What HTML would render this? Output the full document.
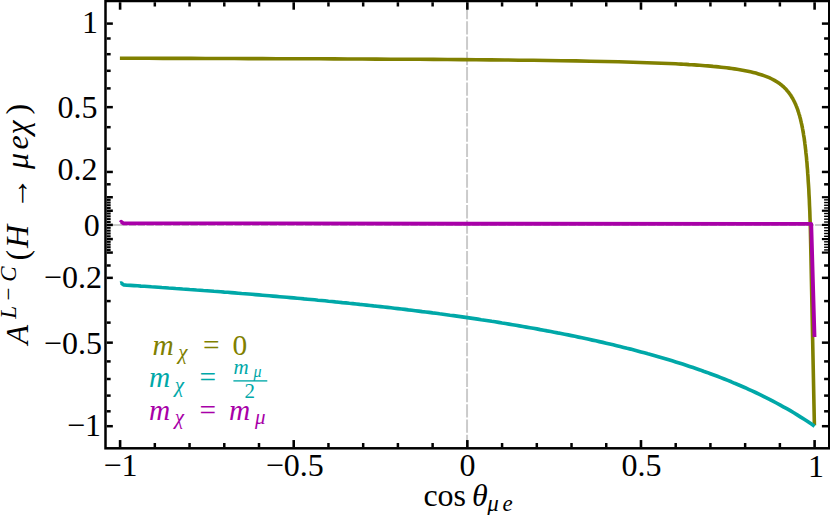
<!DOCTYPE html>
<html><head><meta charset="utf-8"><title>plot</title>
<style>
html,body{margin:0;padding:0;background:#fff;}
svg{display:block;font-family:"Liberation Serif",serif;}
</style></head><body>
<svg width="830" height="515" viewBox="0 0 830 515">
<rect x="0" y="0" width="830" height="515" fill="#fff"/>
<line x1="467.05" y1="0" x2="467.05" y2="448.3" stroke="#cbcbcb" stroke-width="2.0" stroke-dasharray="13.4,1.92" stroke-dashoffset="9.5"/>
<line x1="105.5" y1="225.0" x2="829.25" y2="225.0" stroke="#cbcbcb" stroke-width="2.0" stroke-dasharray="7.3,1.5" stroke-dashoffset="3"/>
<line x1="114.4" y1="225.0" x2="121" y2="225.0" stroke="#cbcbcb" stroke-width="2.0"/>
<line x1="815.2" y1="225.0" x2="822.5" y2="225.0" stroke="#cbcbcb" stroke-width="2.0"/>
<path d="M119.9,58.3 L134.3,58.3 L148.6,58.3 L162.8,58.4 L177.1,58.4 L191.3,58.4 L205.6,58.5 L219.8,58.5 L234.1,58.5 L248.3,58.6 L262.6,58.6 L276.8,58.7 L291.1,58.7 L305.3,58.8 L319.5,58.8 L333.8,58.9 L348.0,59.0 L362.3,59.0 L376.5,59.1 L390.8,59.2 L405.0,59.2 L419.3,59.3 L433.5,59.4 L447.8,59.5 L462.0,59.6 L476.3,59.7 L490.5,59.9 L504.7,60.0 L519.0,60.2 L533.2,60.3 L547.5,60.5 L561.7,60.7 L576.0,60.9 L590.2,61.2 L604.5,61.5 L618.7,61.8 L633.0,62.2 L647.2,62.7 L661.5,63.2 L675.7,63.8 L678.4,64.0 L681.0,64.1 L683.7,64.3 L686.4,64.4 L689.1,64.6 L691.7,64.7 L694.4,64.9 L697.1,65.1 L699.7,65.3 L702.4,65.5 L705.1,65.7 L707.8,65.9 L710.4,66.1 L713.1,66.4 L715.8,66.6 L718.4,66.9 L721.1,67.2 L723.8,67.5 L726.5,67.8 L729.1,68.1 L731.8,68.5 L734.5,68.9 L737.1,69.3 L739.8,69.7 L742.5,70.2 L745.2,70.7 L747.8,71.2 L750.5,71.8 L753.2,72.4 L755.8,73.1 L758.5,73.9 L761.2,74.7 L763.8,75.6 L766.5,76.6 L769.2,77.7 L771.9,79.0 L774.5,80.4 L777.2,82.0 L779.9,83.8 L780.1,84.0 L780.4,84.2 L780.6,84.4 L780.9,84.6 L781.2,84.8 L781.4,85.0 L781.7,85.2 L781.9,85.5 L782.2,85.7 L782.4,85.9 L782.7,86.1 L782.9,86.3 L783.2,86.6 L783.5,86.8 L783.7,87.0 L784.0,87.3 L784.2,87.5 L784.5,87.8 L784.7,88.0 L785.0,88.3 L785.2,88.5 L785.5,88.8 L785.8,89.1 L786.0,89.3 L786.3,89.6 L786.5,89.9 L786.8,90.2 L787.0,90.5 L787.3,90.8 L787.5,91.1 L787.8,91.4 L788.1,91.7 L788.3,92.0 L788.6,92.3 L788.8,92.7 L789.1,93.0 L789.3,93.3 L789.6,93.7 L789.8,94.0 L790.1,94.4 L790.4,94.8 L790.6,95.2 L790.9,95.5 L791.1,95.9 L791.4,96.3 L791.6,96.7 L791.9,97.2 L792.1,97.6 L792.4,98.0 L792.7,98.5 L792.9,98.9 L793.2,99.4 L793.4,99.9 L793.7,100.4 L793.9,100.9 L794.2,101.4 L794.4,101.9 L794.7,102.4 L795.0,103.0 L795.2,103.5 L795.5,104.1 L795.7,104.7 L796.0,105.3 L796.2,105.9 L796.5,106.6 L796.7,107.2 L797.0,107.9 L797.3,108.6 L797.5,109.3 L797.8,110.0 L798.0,110.8 L798.3,111.5 L798.5,112.3 L798.8,113.2 L799.0,114.0 L799.3,114.9 L799.6,115.7 L799.8,116.7 L800.1,117.6 L800.3,118.6 L800.6,119.6 L800.8,120.7 L801.1,121.7 L801.3,122.9 L801.6,124.0 L801.9,125.2 L802.1,126.5 L802.4,127.8 L802.6,129.1 L802.9,130.5 L803.1,131.9 L803.4,133.4 L803.6,135.0 L803.9,136.6 L804.2,138.3 L804.4,140.1 L804.7,142.0 L804.9,143.9 L805.2,145.9 L805.4,148.1 L805.7,150.3 L805.9,152.7 L806.2,155.1 L806.5,157.8 L806.7,160.5 L807.0,163.4 L807.2,166.5 L807.5,169.7 L807.7,173.2 L808.0,176.9 L808.2,180.8 L808.5,185.0 L808.8,189.5 L809.0,194.4 L809.3,199.6 L809.5,205.2 L809.8,211.3 L810.0,217.9 L810.3,225.2 L814.4,425.2" fill="none" stroke="#808000" stroke-width="3.6" stroke-linejoin="round" />
<path d="M120.2,283.3 L121.2,283.0 L123.6,284.9 L127.0,285.2 L130.5,285.4 L134.0,285.6 L137.5,285.8 L140.9,286.1 L144.4,286.3 L147.9,286.5 L151.4,286.8 L154.8,287.0 L158.3,287.2 L161.8,287.5 L165.2,287.7 L168.7,288.0 L172.2,288.2 L175.7,288.5 L179.1,288.7 L182.6,289.0 L186.1,289.2 L189.6,289.5 L193.0,289.7 L196.5,290.0 L200.0,290.2 L203.4,290.5 L206.9,290.7 L210.4,291.0 L213.9,291.3 L217.3,291.5 L220.8,291.8 L224.3,292.1 L227.7,292.3 L231.2,292.6 L234.7,292.9 L238.2,293.2 L241.6,293.5 L245.1,293.7 L248.6,294.0 L252.1,294.3 L255.5,294.6 L259.0,294.9 L262.5,295.2 L265.9,295.5 L269.4,295.8 L272.9,296.1 L276.4,296.4 L279.8,296.7 L283.3,297.0 L286.8,297.3 L290.3,297.6 L293.7,297.9 L297.2,298.2 L300.7,298.5 L304.1,298.9 L307.6,299.2 L311.1,299.5 L314.6,299.8 L318.0,300.2 L321.5,300.5 L325.0,300.8 L328.5,301.2 L331.9,301.5 L335.4,301.9 L338.9,302.2 L342.3,302.6 L345.8,302.9 L349.3,303.3 L352.8,303.6 L356.2,304.0 L359.7,304.4 L363.2,304.7 L366.6,305.1 L370.1,305.5 L373.6,305.9 L377.1,306.2 L380.5,306.6 L384.0,307.0 L387.5,307.4 L391.0,307.8 L394.4,308.2 L397.9,308.6 L401.4,309.0 L404.8,309.4 L408.3,309.9 L411.8,310.3 L415.3,310.7 L418.7,311.1 L422.2,311.6 L425.7,312.0 L429.2,312.4 L432.6,312.9 L436.1,313.3 L439.6,313.8 L443.0,314.2 L446.5,314.7 L450.0,315.2 L453.5,315.6 L456.9,316.1 L460.4,316.6 L463.9,317.1 L467.4,317.6 L470.8,318.1 L474.3,318.6 L477.8,319.1 L481.2,319.7 L484.7,320.2 L488.2,320.7 L491.7,321.3 L495.1,321.8 L498.6,322.4 L502.1,323.0 L505.5,323.5 L509.0,324.1 L512.5,324.7 L516.0,325.3 L519.4,325.9 L522.9,326.5 L526.4,327.1 L529.9,327.7 L533.3,328.3 L536.8,328.9 L540.3,329.6 L543.7,330.2 L547.2,330.9 L550.7,331.5 L554.2,332.2 L557.6,332.9 L561.1,333.5 L564.6,334.2 L568.1,334.9 L571.5,335.6 L575.0,336.3 L578.5,337.1 L581.9,337.8 L585.4,338.5 L588.9,339.3 L592.4,340.1 L595.8,340.8 L599.3,341.6 L602.8,342.4 L606.2,343.2 L609.7,344.0 L613.2,344.8 L616.7,345.7 L620.1,346.5 L623.6,347.4 L627.1,348.3 L630.6,349.1 L634.0,350.0 L637.5,350.9 L641.0,351.9 L644.4,352.8 L647.9,353.8 L651.4,354.7 L654.9,355.7 L658.3,356.7 L661.8,357.7 L665.3,358.7 L668.8,359.8 L672.2,360.8 L675.7,361.9 L679.2,363.0 L682.6,364.1 L686.1,365.2 L689.6,366.4 L693.1,367.6 L696.5,368.7 L700.0,369.9 L703.5,371.2 L707.0,372.4 L710.4,373.7 L713.9,375.0 L717.4,376.3 L720.8,377.6 L724.3,379.0 L727.8,380.4 L731.3,381.8 L734.7,383.3 L738.2,384.7 L741.7,386.2 L745.2,387.7 L748.6,389.3 L752.1,390.9 L755.6,392.5 L759.0,394.2 L762.5,395.9 L766.0,397.6 L769.5,399.3 L772.9,401.1 L776.4,403.0 L779.9,404.9 L783.3,406.8 L786.8,408.7 L790.3,410.7 L793.8,412.8 L797.2,414.9 L800.7,417.1 L804.2,419.3 L807.7,421.5 L811.1,423.8 L814.6,426.2" fill="none" stroke="#00a8a8" stroke-width="3.65" stroke-linejoin="round" />
<path d="M120.4,222.6 L121.2,221.7 L123.2,223.2 L467.0,223.7 L811.2,223.9 L814.5,337.0" fill="none" stroke="#a800a8" stroke-width="3.9" stroke-linejoin="round" stroke-linejoin="miter"/>
<rect x="105.5" y="1.0" width="723.75" height="447.3" fill="none" stroke="#000" stroke-width="2.5"/>
<line x1="120.10" y1="447.05" x2="120.10" y2="440.05" stroke="#000" stroke-width="2.6"/>
<line x1="120.10" y1="2.25" x2="120.10" y2="9.7" stroke="#000" stroke-width="2.6"/>
<line x1="154.82" y1="447.05" x2="154.82" y2="443.0" stroke="#000" stroke-width="2.5"/>
<line x1="154.82" y1="2.25" x2="154.82" y2="6.5" stroke="#000" stroke-width="2.5"/>
<line x1="189.55" y1="447.05" x2="189.55" y2="443.0" stroke="#000" stroke-width="2.5"/>
<line x1="189.55" y1="2.25" x2="189.55" y2="6.5" stroke="#000" stroke-width="2.5"/>
<line x1="224.28" y1="447.05" x2="224.28" y2="443.0" stroke="#000" stroke-width="2.5"/>
<line x1="224.28" y1="2.25" x2="224.28" y2="6.5" stroke="#000" stroke-width="2.5"/>
<line x1="259.00" y1="447.05" x2="259.00" y2="443.0" stroke="#000" stroke-width="2.5"/>
<line x1="259.00" y1="2.25" x2="259.00" y2="6.5" stroke="#000" stroke-width="2.5"/>
<line x1="293.73" y1="447.05" x2="293.73" y2="440.05" stroke="#000" stroke-width="2.6"/>
<line x1="293.73" y1="2.25" x2="293.73" y2="9.7" stroke="#000" stroke-width="2.6"/>
<line x1="328.45" y1="447.05" x2="328.45" y2="443.0" stroke="#000" stroke-width="2.5"/>
<line x1="328.45" y1="2.25" x2="328.45" y2="6.5" stroke="#000" stroke-width="2.5"/>
<line x1="363.18" y1="447.05" x2="363.18" y2="443.0" stroke="#000" stroke-width="2.5"/>
<line x1="363.18" y1="2.25" x2="363.18" y2="6.5" stroke="#000" stroke-width="2.5"/>
<line x1="397.90" y1="447.05" x2="397.90" y2="443.0" stroke="#000" stroke-width="2.5"/>
<line x1="397.90" y1="2.25" x2="397.90" y2="6.5" stroke="#000" stroke-width="2.5"/>
<line x1="432.62" y1="447.05" x2="432.62" y2="443.0" stroke="#000" stroke-width="2.5"/>
<line x1="432.62" y1="2.25" x2="432.62" y2="6.5" stroke="#000" stroke-width="2.5"/>
<line x1="467.35" y1="447.05" x2="467.35" y2="440.05" stroke="#000" stroke-width="2.6"/>
<line x1="467.35" y1="2.25" x2="467.35" y2="9.7" stroke="#000" stroke-width="2.6"/>
<line x1="502.08" y1="447.05" x2="502.08" y2="443.0" stroke="#000" stroke-width="2.5"/>
<line x1="502.08" y1="2.25" x2="502.08" y2="6.5" stroke="#000" stroke-width="2.5"/>
<line x1="536.80" y1="447.05" x2="536.80" y2="443.0" stroke="#000" stroke-width="2.5"/>
<line x1="536.80" y1="2.25" x2="536.80" y2="6.5" stroke="#000" stroke-width="2.5"/>
<line x1="571.52" y1="447.05" x2="571.52" y2="443.0" stroke="#000" stroke-width="2.5"/>
<line x1="571.52" y1="2.25" x2="571.52" y2="6.5" stroke="#000" stroke-width="2.5"/>
<line x1="606.25" y1="447.05" x2="606.25" y2="443.0" stroke="#000" stroke-width="2.5"/>
<line x1="606.25" y1="2.25" x2="606.25" y2="6.5" stroke="#000" stroke-width="2.5"/>
<line x1="640.98" y1="447.05" x2="640.98" y2="440.05" stroke="#000" stroke-width="2.6"/>
<line x1="640.98" y1="2.25" x2="640.98" y2="9.7" stroke="#000" stroke-width="2.6"/>
<line x1="675.70" y1="447.05" x2="675.70" y2="443.0" stroke="#000" stroke-width="2.5"/>
<line x1="675.70" y1="2.25" x2="675.70" y2="6.5" stroke="#000" stroke-width="2.5"/>
<line x1="710.42" y1="447.05" x2="710.42" y2="443.0" stroke="#000" stroke-width="2.5"/>
<line x1="710.42" y1="2.25" x2="710.42" y2="6.5" stroke="#000" stroke-width="2.5"/>
<line x1="745.15" y1="447.05" x2="745.15" y2="443.0" stroke="#000" stroke-width="2.5"/>
<line x1="745.15" y1="2.25" x2="745.15" y2="6.5" stroke="#000" stroke-width="2.5"/>
<line x1="779.88" y1="447.05" x2="779.88" y2="443.0" stroke="#000" stroke-width="2.5"/>
<line x1="779.88" y1="2.25" x2="779.88" y2="6.5" stroke="#000" stroke-width="2.5"/>
<line x1="814.60" y1="447.05" x2="814.60" y2="440.05" stroke="#000" stroke-width="2.6"/>
<line x1="814.60" y1="2.25" x2="814.60" y2="9.7" stroke="#000" stroke-width="2.6"/>
<line x1="106.75" y1="23.60" x2="112.85" y2="23.60" stroke="#000" stroke-width="2.5"/>
<line x1="828.0" y1="23.60" x2="821.9" y2="23.60" stroke="#000" stroke-width="2.5"/>
<line x1="106.75" y1="107.15" x2="112.85" y2="107.15" stroke="#000" stroke-width="2.5"/>
<line x1="828.0" y1="107.15" x2="821.9" y2="107.15" stroke="#000" stroke-width="2.5"/>
<line x1="106.75" y1="171.95" x2="112.85" y2="171.95" stroke="#000" stroke-width="2.5"/>
<line x1="828.0" y1="171.95" x2="821.9" y2="171.95" stroke="#000" stroke-width="2.5"/>
<line x1="106.75" y1="197.22" x2="112.85" y2="197.22" stroke="#000" stroke-width="2.5"/>
<line x1="828.0" y1="197.22" x2="821.9" y2="197.22" stroke="#000" stroke-width="2.2"/>
<line x1="106.75" y1="210.73" x2="112.85" y2="210.73" stroke="#000" stroke-width="2.5"/>
<line x1="828.0" y1="210.73" x2="821.9" y2="210.73" stroke="#000" stroke-width="2.2"/>
<line x1="106.75" y1="224.90" x2="112.85" y2="224.90" stroke="#000" stroke-width="2.5"/>
<line x1="828.0" y1="224.90" x2="821.9" y2="224.90" stroke="#000" stroke-width="2.2"/>
<line x1="106.75" y1="239.07" x2="112.85" y2="239.07" stroke="#000" stroke-width="2.5"/>
<line x1="828.0" y1="239.07" x2="821.9" y2="239.07" stroke="#000" stroke-width="2.2"/>
<line x1="106.75" y1="252.58" x2="112.85" y2="252.58" stroke="#000" stroke-width="2.5"/>
<line x1="828.0" y1="252.58" x2="821.9" y2="252.58" stroke="#000" stroke-width="2.2"/>
<line x1="106.75" y1="277.85" x2="112.85" y2="277.85" stroke="#000" stroke-width="2.5"/>
<line x1="828.0" y1="277.85" x2="821.9" y2="277.85" stroke="#000" stroke-width="2.5"/>
<line x1="106.75" y1="342.65" x2="112.85" y2="342.65" stroke="#000" stroke-width="2.5"/>
<line x1="828.0" y1="342.65" x2="821.9" y2="342.65" stroke="#000" stroke-width="2.5"/>
<line x1="106.75" y1="426.20" x2="112.85" y2="426.20" stroke="#000" stroke-width="2.5"/>
<line x1="828.0" y1="426.20" x2="821.9" y2="426.20" stroke="#000" stroke-width="2.5"/>
<line x1="106.75" y1="38.50" x2="110.65" y2="38.50" stroke="#000" stroke-width="2.5"/>
<line x1="828.0" y1="38.50" x2="824.1" y2="38.50" stroke="#000" stroke-width="2.5"/>
<line x1="106.75" y1="54.20" x2="110.65" y2="54.20" stroke="#000" stroke-width="2.5"/>
<line x1="828.0" y1="54.20" x2="824.1" y2="54.20" stroke="#000" stroke-width="2.5"/>
<line x1="106.75" y1="70.80" x2="110.65" y2="70.80" stroke="#000" stroke-width="2.5"/>
<line x1="828.0" y1="70.80" x2="824.1" y2="70.80" stroke="#000" stroke-width="2.5"/>
<line x1="106.75" y1="88.40" x2="110.65" y2="88.40" stroke="#000" stroke-width="2.5"/>
<line x1="828.0" y1="88.40" x2="824.1" y2="88.40" stroke="#000" stroke-width="2.5"/>
<line x1="106.75" y1="127.18" x2="110.65" y2="127.18" stroke="#000" stroke-width="2.5"/>
<line x1="828.0" y1="127.18" x2="824.1" y2="127.18" stroke="#000" stroke-width="2.5"/>
<line x1="106.75" y1="148.71" x2="110.65" y2="148.71" stroke="#000" stroke-width="2.5"/>
<line x1="828.0" y1="148.71" x2="824.1" y2="148.71" stroke="#000" stroke-width="2.5"/>
<line x1="106.75" y1="184.31" x2="110.65" y2="184.31" stroke="#000" stroke-width="2.5"/>
<line x1="828.0" y1="184.31" x2="824.1" y2="184.31" stroke="#000" stroke-width="2.5"/>
<line x1="106.75" y1="265.49" x2="110.65" y2="265.49" stroke="#000" stroke-width="2.5"/>
<line x1="828.0" y1="265.49" x2="824.1" y2="265.49" stroke="#000" stroke-width="2.5"/>
<line x1="106.75" y1="301.09" x2="110.65" y2="301.09" stroke="#000" stroke-width="2.5"/>
<line x1="828.0" y1="301.09" x2="824.1" y2="301.09" stroke="#000" stroke-width="2.5"/>
<line x1="106.75" y1="322.62" x2="110.65" y2="322.62" stroke="#000" stroke-width="2.5"/>
<line x1="828.0" y1="322.62" x2="824.1" y2="322.62" stroke="#000" stroke-width="2.5"/>
<line x1="106.75" y1="361.40" x2="110.65" y2="361.40" stroke="#000" stroke-width="2.5"/>
<line x1="828.0" y1="361.40" x2="824.1" y2="361.40" stroke="#000" stroke-width="2.5"/>
<line x1="106.75" y1="379.00" x2="110.65" y2="379.00" stroke="#000" stroke-width="2.5"/>
<line x1="828.0" y1="379.00" x2="824.1" y2="379.00" stroke="#000" stroke-width="2.5"/>
<line x1="106.75" y1="395.60" x2="110.65" y2="395.60" stroke="#000" stroke-width="2.5"/>
<line x1="828.0" y1="395.60" x2="824.1" y2="395.60" stroke="#000" stroke-width="2.5"/>
<line x1="106.75" y1="411.30" x2="110.65" y2="411.30" stroke="#000" stroke-width="2.5"/>
<line x1="828.0" y1="411.30" x2="824.1" y2="411.30" stroke="#000" stroke-width="2.5"/>
<line x1="106.75" y1="249.93" x2="110.65" y2="249.93" stroke="#000" stroke-width="2.1"/>
<line x1="828.0" y1="249.93" x2="824.1" y2="249.93" stroke="#000" stroke-width="1.4"/>
<line x1="106.75" y1="247.25" x2="110.65" y2="247.25" stroke="#000" stroke-width="2.1"/>
<line x1="828.0" y1="247.25" x2="824.1" y2="247.25" stroke="#000" stroke-width="1.4"/>
<line x1="106.75" y1="244.55" x2="110.65" y2="244.55" stroke="#000" stroke-width="2.1"/>
<line x1="828.0" y1="244.55" x2="824.1" y2="244.55" stroke="#000" stroke-width="1.4"/>
<line x1="106.75" y1="241.82" x2="110.65" y2="241.82" stroke="#000" stroke-width="2.1"/>
<line x1="828.0" y1="241.82" x2="824.1" y2="241.82" stroke="#000" stroke-width="1.4"/>
<line x1="106.75" y1="236.29" x2="110.65" y2="236.29" stroke="#000" stroke-width="2.1"/>
<line x1="828.0" y1="236.29" x2="824.1" y2="236.29" stroke="#000" stroke-width="1.4"/>
<line x1="106.75" y1="233.48" x2="110.65" y2="233.48" stroke="#000" stroke-width="2.1"/>
<line x1="828.0" y1="233.48" x2="824.1" y2="233.48" stroke="#000" stroke-width="1.4"/>
<line x1="106.75" y1="230.65" x2="110.65" y2="230.65" stroke="#000" stroke-width="2.1"/>
<line x1="828.0" y1="230.65" x2="824.1" y2="230.65" stroke="#000" stroke-width="1.4"/>
<line x1="106.75" y1="227.79" x2="110.65" y2="227.79" stroke="#000" stroke-width="2.1"/>
<line x1="828.0" y1="227.79" x2="824.1" y2="227.79" stroke="#000" stroke-width="1.4"/>
<line x1="106.75" y1="222.01" x2="110.65" y2="222.01" stroke="#000" stroke-width="2.1"/>
<line x1="828.0" y1="222.01" x2="824.1" y2="222.01" stroke="#000" stroke-width="1.4"/>
<line x1="106.75" y1="219.15" x2="110.65" y2="219.15" stroke="#000" stroke-width="2.1"/>
<line x1="828.0" y1="219.15" x2="824.1" y2="219.15" stroke="#000" stroke-width="1.4"/>
<line x1="106.75" y1="216.32" x2="110.65" y2="216.32" stroke="#000" stroke-width="2.1"/>
<line x1="828.0" y1="216.32" x2="824.1" y2="216.32" stroke="#000" stroke-width="1.4"/>
<line x1="106.75" y1="213.51" x2="110.65" y2="213.51" stroke="#000" stroke-width="2.1"/>
<line x1="828.0" y1="213.51" x2="824.1" y2="213.51" stroke="#000" stroke-width="1.4"/>
<line x1="106.75" y1="207.98" x2="110.65" y2="207.98" stroke="#000" stroke-width="2.1"/>
<line x1="828.0" y1="207.98" x2="824.1" y2="207.98" stroke="#000" stroke-width="1.4"/>
<line x1="106.75" y1="205.25" x2="110.65" y2="205.25" stroke="#000" stroke-width="2.1"/>
<line x1="828.0" y1="205.25" x2="824.1" y2="205.25" stroke="#000" stroke-width="1.4"/>
<line x1="106.75" y1="202.55" x2="110.65" y2="202.55" stroke="#000" stroke-width="2.1"/>
<line x1="828.0" y1="202.55" x2="824.1" y2="202.55" stroke="#000" stroke-width="1.4"/>
<line x1="106.75" y1="199.87" x2="110.65" y2="199.87" stroke="#000" stroke-width="2.1"/>
<line x1="828.0" y1="199.87" x2="824.1" y2="199.87" stroke="#000" stroke-width="1.4"/>
<g fill="#000" font-size="32" style="font-family:'Liberation Serif',serif">
<text x="120.5" y="476" text-anchor="middle">−1</text>
<text x="294.8" y="476" text-anchor="middle">−0.5</text>
<text x="467.6" y="476" text-anchor="middle">0</text>
<text x="641.6" y="476" text-anchor="middle">0.5</text>
<text x="815.9" y="477.4" text-anchor="middle">1</text>
<text x="98" y="32.9" text-anchor="end">1</text>
<text x="97.6" y="117.75" text-anchor="end">0.5</text>
<text x="97.6" y="180.35" text-anchor="end">0.2</text>
<text x="99.8" y="236.1" text-anchor="end">0</text>
<text x="101.9" y="288.45" text-anchor="end">−0.2</text>
<text x="101.9" y="353.65" text-anchor="end">−0.5</text>
<text x="101.1" y="436.3" text-anchor="end">−1</text>
<text x="423.4" y="506">cos</text>
<text x="472" y="506" font-style="italic">θ</text>
<text x="487.2" y="510.85" font-size="23" font-style="italic">μ</text>
<text x="502.4" y="510.85" font-size="23" font-style="italic">e</text>
<g transform="translate(27.8,344.5) rotate(-90)">
<text x="0" y="0" font-style="italic">A</text>
<text x="25.8" y="-11.72" font-size="23" font-style="italic">L</text>
<text x="44" y="-11.72" font-size="23">−</text>
<text x="62.7" y="-11.72" font-size="23" font-style="italic">C</text>
<text x="84" y="0">(</text>
<text x="96.5" y="0" font-style="italic">H</text>
<text x="135" y="0">→</text>
<text x="175.4" y="0" font-style="italic">μ</text>
<text x="194.9" y="0" font-style="italic">e</text>
<text x="209.9" y="0" font-style="italic">χ</text>
<text x="230" y="0">)</text>
</g>
</g>
<g fill="#808000" font-size="29.4" style="font-family:'Liberation Serif',serif">
<text x="152.4" y="355" font-style="italic">m</text>
<text x="178.2" y="359.4" font-size="21" font-style="italic">χ</text>
<text x="203" y="355">=</text>
<text x="232.4" y="355">0</text>
</g>
<g fill="#00a8a8" font-size="29.4" style="font-family:'Liberation Serif',serif">
<text x="149" y="387.3" font-style="italic">m</text>
<text x="174.8" y="391.7" font-size="21" font-style="italic">χ</text>
<text x="199.6" y="387.3">=</text>
<text x="233.4" y="373.7" font-size="21" font-style="italic">m</text>
<text x="253.6" y="376.6" font-size="16" font-style="italic">μ</text>
<text x="244.6" y="398" font-size="21">2</text>
</g>
<rect x="233.40" y="380.22" width="33.90" height="1.35" fill="#00a8a8"/>
<g fill="#a800a8" font-size="29.4" style="font-family:'Liberation Serif',serif">
<text x="149" y="420" font-style="italic">m</text>
<text x="174.8" y="424.4" font-size="21" font-style="italic">χ</text>
<text x="199.6" y="420">=</text>
<text x="229" y="420" font-style="italic">m</text>
<text x="254.9" y="424.4" font-size="21" font-style="italic">μ</text>
</g>
</svg>
</body></html>
